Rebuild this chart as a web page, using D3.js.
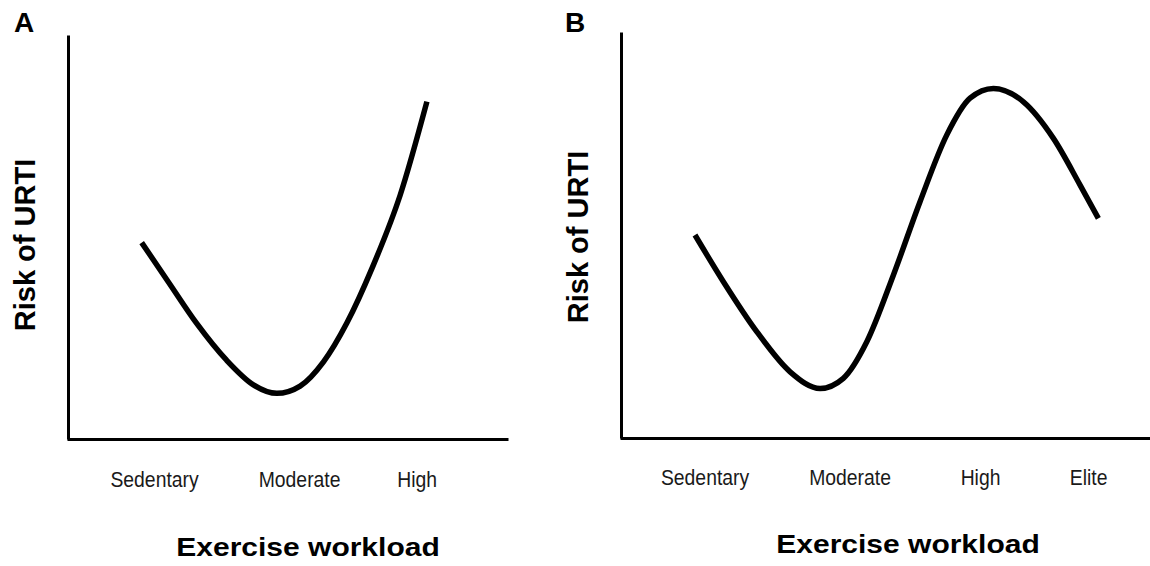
<!DOCTYPE html>
<html>
<head>
<meta charset="utf-8">
<script src="https://cdn.jsdelivr.net/npm/d3@7"></script>
<style>
  html, body { margin: 0; padding: 0; background: #fff; }
  svg { display: block; }
  text { font-family: "Liberation Sans", Arial, sans-serif; }
</style>
</head>
<body>
<svg id="chart" width="1150" height="566"></svg>
<script>
// ---------- data ----------
const panelLabels = ["A", "B"];
const yTitle = "Risk of URTI";
const xTitle = "Exercise workload";

// Panel A: categories and their workload positions
const catsA = ["Sedentary", "Moderate", "High"];
const catPosA = [0, 1, 1.81];
// Panel A curve (workload, relative risk 0-100)
const curveAx = [-0.085, 0.10, 0.294, 0.50, 0.685, 0.846, 1.007, 1.168, 1.329, 1.503, 1.697, 1.881];
const curveAy = [48.6, 38.8, 28.6, 19.5, 13.4, 11.3, 13.1, 19.1, 28.7, 42.3, 60.4, 83.5];

// Panel B
const catsB = ["Sedentary", "Moderate", "High", "Elite"];
const catPosB = [0, 1, 1.9, 2.645];
const curveBx = [-0.066, 0.130, 0.360, 0.590, 0.797, 0.957, 1.119, 1.302, 1.486, 1.670, 1.831, 1.992, 2.199, 2.406, 2.590, 2.716];
const curveBy = [50.0, 38.5, 26.2, 16.3, 12.2, 14.7, 23.7, 40.1, 58.2, 74.6, 83.7, 86.1, 82.8, 73.8, 62.3, 54.1];

// ---------- drawing ----------
const svg = d3.select("#chart");
svg.append("rect").attr("width", 1150).attr("height", 566).attr("fill", "#fff");

const panels = [
  { label: panelLabels[0], cats: catsA, pos: catPosA, cx: curveAx, cy: curveAy,
    xDom: [-0.6, 2.44], xRange: [67, 508], yRange: [439, 35],
    labelXY: [14, 32], yTitleXY: [35, 245], xTitleXY: [308, 556], tickY: 48 },
  { label: panelLabels[1], cats: catsB, pos: catPosB, cx: curveBx, cy: curveBy,
    xDom: [-0.583, 3.072], xRange: [620, 1150], yRange: [438, 32],
    labelXY: [565, 32], yTitleXY: [588, 237], xTitleXY: [908, 553], tickY: 47 }
];

panels.forEach(p => {
  const x = d3.scaleLinear().domain(p.xDom).range(p.xRange);
  const y = d3.scaleLinear().domain([0, 100]).range(p.yRange);
  const g = svg.append("g");

  // x axis (line + category labels)
  const xAxis = d3.axisBottom(x)
    .tickValues(p.pos)
    .tickFormat((d, i) => p.cats[i])
    .tickSize(0).tickSizeOuter(0);
  const xg = g.append("g").attr("transform", `translate(0,${p.yRange[0]})`).call(xAxis);
  xg.select(".domain").attr("stroke", "#000").attr("stroke-width", 3);
  xg.selectAll(".tick text")
    .attr("y", p.tickY).attr("dy", 0)
    .attr("fill", "#1a1a1a")
    .style("font-family", "'Liberation Sans', Arial, sans-serif")
    .style("font-size", "22px")
    .attr("transform", "scale(0.88,1)");

  // y axis (line only)
  const yAxis = d3.axisLeft(y).tickValues([]).tickSize(0).tickSizeOuter(0);
  const yg = g.append("g").attr("transform", `translate(${p.xRange[0] + 1},0)`).call(yAxis);
  yg.select(".domain").attr("stroke", "#000").attr("stroke-width", 3);

  // curve
  const pts = p.cx.map((v, i) => [v, p.cy[i]]);
  const line = d3.line()
    .x(d => x(d[0])).y(d => y(d[1]))
    .curve(d3.curveMonotoneX);
  g.append("path").datum(pts)
    .attr("d", line)
    .attr("fill", "none").attr("stroke", "#000")
    .attr("stroke-width", 5.5);

  // panel letter
  g.append("text").attr("x", p.labelXY[0]).attr("y", p.labelXY[1])
    .style("font-size", "28px").style("font-weight", "bold")
    .text(p.label);

  // y title
  g.append("text")
    .attr("transform", `translate(${p.yTitleXY[0]},${p.yTitleXY[1]}) rotate(-90)`)
    .attr("text-anchor", "middle")
    .style("font-size", "29px").style("font-weight", "bold")
    .text(yTitle);

  // x title
  g.append("text")
    .attr("transform", `translate(${p.xTitleXY[0]},${p.xTitleXY[1]}) scale(1.2,1)`)
    .attr("text-anchor", "middle")
    .style("font-size", "25px").style("font-weight", "bold")
    .text(xTitle);
});
</script>
</body>
</html>
